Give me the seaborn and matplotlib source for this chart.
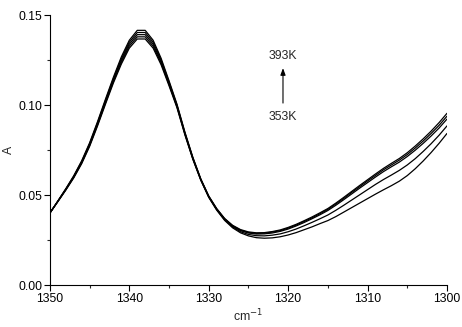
import numpy as np
import pandas as pd
import matplotlib
matplotlib.use("Agg")
import matplotlib.pyplot as plt
import seaborn as sns
from matplotlib.ticker import MultipleLocator

wavenumber = list(range(1350, 1299, -1))

a_393 = [0.0400, 0.0467, 0.0535, 0.0607, 0.0690, 0.0790, 0.0908, 0.1033, 0.1155, 0.1268,
         0.1360, 0.1415, 0.1415, 0.1360, 0.1260, 0.1135, 0.1005, 0.0850, 0.0710, 0.0590,
         0.0495, 0.0425, 0.0370, 0.0332, 0.0308, 0.0295, 0.0290, 0.0291, 0.0297, 0.0306,
         0.0320, 0.0337, 0.0357, 0.0378, 0.0401, 0.0425, 0.0455, 0.0487, 0.0520, 0.0553,
         0.0585, 0.0617, 0.0648, 0.0676, 0.0703, 0.0735, 0.0772, 0.0812, 0.0855, 0.0902,
         0.0954]
a_383 = [0.0400, 0.0466, 0.0533, 0.0604, 0.0686, 0.0785, 0.0902, 0.1026, 0.1147, 0.1258,
         0.1349, 0.1403, 0.1403, 0.1349, 0.1251, 0.1128, 0.1000, 0.0846, 0.0707, 0.0588,
         0.0493, 0.0423, 0.0368, 0.0329, 0.0305, 0.0292, 0.0287, 0.0288, 0.0294, 0.0302,
         0.0316, 0.0333, 0.0353, 0.0373, 0.0396, 0.0420, 0.0450, 0.0481, 0.0514, 0.0546,
         0.0578, 0.0609, 0.0640, 0.0667, 0.0694, 0.0725, 0.0761, 0.0800, 0.0842, 0.0887,
         0.0938]
a_373 = [0.0400, 0.0465, 0.0531, 0.0601, 0.0682, 0.0780, 0.0896, 0.1019, 0.1139, 0.1248,
         0.1338, 0.1391, 0.1391, 0.1338, 0.1242, 0.1121, 0.0995, 0.0842, 0.0704, 0.0586,
         0.0491, 0.0421, 0.0366, 0.0327, 0.0302, 0.0289, 0.0283, 0.0284, 0.0289, 0.0298,
         0.0311, 0.0328, 0.0347, 0.0368, 0.0390, 0.0414, 0.0443, 0.0474, 0.0506, 0.0538,
         0.0569, 0.0600, 0.0630, 0.0657, 0.0683, 0.0714, 0.0749, 0.0787, 0.0828, 0.0872,
         0.0922]
a_363 = [0.0400, 0.0464, 0.0529, 0.0598, 0.0678, 0.0775, 0.0890, 0.1012, 0.1131, 0.1238,
         0.1327, 0.1379, 0.1379, 0.1327, 0.1233, 0.1114, 0.0990, 0.0838, 0.0701, 0.0584,
         0.0489, 0.0419, 0.0363, 0.0323, 0.0296, 0.0281, 0.0274, 0.0273, 0.0277, 0.0284,
         0.0296, 0.0311, 0.0329, 0.0348, 0.0368, 0.0389, 0.0415, 0.0443, 0.0472, 0.0501,
         0.0530, 0.0559, 0.0586, 0.0611, 0.0637, 0.0667, 0.0702, 0.0742, 0.0785, 0.0832,
         0.0884]
a_353 = [0.0400, 0.0463, 0.0527, 0.0595, 0.0674, 0.0770, 0.0884, 0.1005, 0.1123, 0.1228,
         0.1316, 0.1367, 0.1367, 0.1316, 0.1224, 0.1107, 0.0985, 0.0834, 0.0698, 0.0582,
         0.0487, 0.0416, 0.0359, 0.0318, 0.0290, 0.0273, 0.0263, 0.0260, 0.0262, 0.0268,
         0.0278, 0.0291, 0.0307, 0.0323, 0.0341, 0.0358, 0.0380, 0.0405, 0.0430, 0.0455,
         0.0480, 0.0505, 0.0529, 0.0552, 0.0577, 0.0608, 0.0646, 0.0689, 0.0736, 0.0787,
         0.0842]

temperatures = ["353K", "363K", "373K", "383K", "393K"]
series = [a_353, a_363, a_373, a_383, a_393]

frames = []
for t, s in zip(temperatures, series):
    frames.append(pd.DataFrame({"wn": wavenumber, "A": s, "T": t}))
df = pd.concat(frames, ignore_index=True)

sns.set_style("ticks")
plt.rcParams["font.family"] = ["Liberation Sans", "DejaVu Sans"]

fig = plt.figure(figsize=(4.62, 3.27), dpi=100)
ax = fig.add_axes([0.108, 0.1284, 0.8595, 0.8256])

sns.lineplot(data=df, x="wn", y="A", hue="T", units="T", estimator=None,
             palette=["black"] * 5, linewidth=0.9, legend=False, ax=ax, sort=False)

ax.set_xlim(1350, 1300)
ax.set_ylim(0.0, 0.15)
ax.xaxis.set_major_locator(MultipleLocator(10))
ax.xaxis.set_minor_locator(MultipleLocator(5))
ax.yaxis.set_major_locator(MultipleLocator(0.05))
ax.yaxis.set_minor_locator(MultipleLocator(0.025))
ax.yaxis.set_major_formatter(matplotlib.ticker.FormatStrFormatter("%.2f"))
ax.tick_params(axis="both", which="major", direction="out", length=4, width=0.8,
               labelsize=8.8, colors="black", pad=1.5)
ax.tick_params(axis="both", which="minor", direction="out", length=2.5, width=0.8)
for side in ["top", "right"]:
    ax.spines[side].set_visible(False)
for side in ["left", "bottom"]:
    ax.spines[side].set_linewidth(0.8)
    ax.spines[side].set_color("black")

ax.set_xlabel("cm$^{-1}$", fontsize=8.8)
ax.set_ylabel("A", fontsize=8.8)
ax.xaxis.set_label_coords(0.5, -0.085)
ax.yaxis.set_label_coords(-0.088, 0.5)

ax.text(1320.65, 0.1272, "393K", fontsize=8.8, ha="center", va="center")
ax.text(1320.65, 0.0931, "353K", fontsize=8.8, ha="center", va="center")
ax.annotate("", xy=(1320.65, 0.1205), xytext=(1320.65, 0.1011),
            arrowprops=dict(arrowstyle="-|>,head_length=0.4,head_width=0.15",
                            color="black", lw=0.8, shrinkA=0, shrinkB=0))

fig.savefig("out.png", dpi=100)
